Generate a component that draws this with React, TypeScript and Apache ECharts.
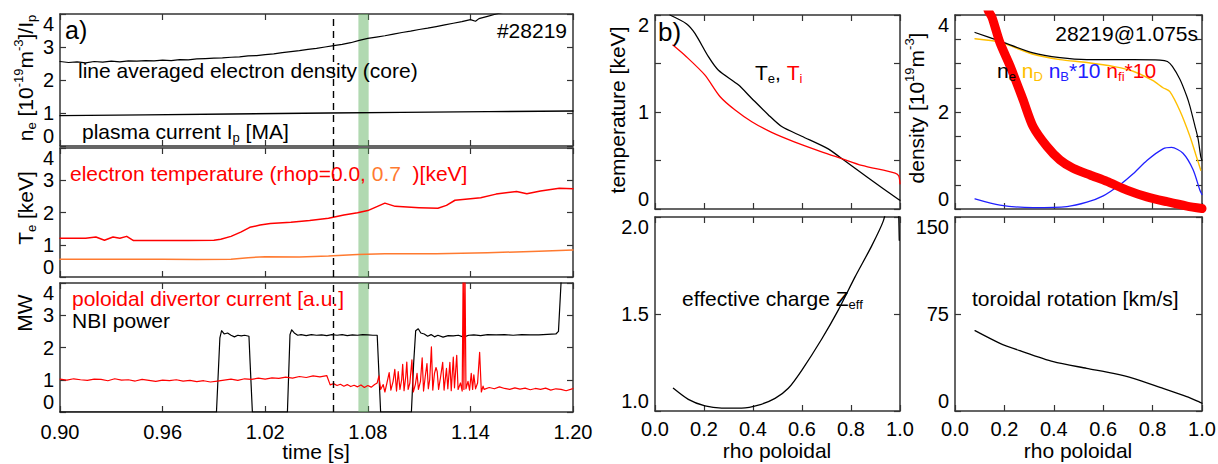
import React, { useEffect, useRef } from 'react';
import * as echarts from 'echarts';

type P = [number, number];

const FONT = '"Liberation Sans", Arial, Helvetica, sans-serif';
const AX = '#333333';
const RED = '#ff0000';
const ORANGE = '#ff7a30';
const GOLD = '#ffbf00';
const BLUE = '#2020ff';

// ---------- panel a) top : line averaged density and plasma current ----------
const densityCore: P[] = [
  [0.900, 2.56], [0.905, 2.53], [0.910, 2.55], [0.915, 2.52], [0.920, 2.56], [0.925, 2.54],
  [0.930, 2.57], [0.935, 2.55], [0.940, 2.58], [0.945, 2.57], [0.950, 2.59], [0.955, 2.58],
  [0.960, 2.60], [0.965, 2.59], [0.970, 2.62], [0.975, 2.61], [0.980, 2.64], [0.985, 2.65],
  [0.990, 2.66], [0.995, 2.67], [1.000, 2.69], [1.005, 2.70], [1.010, 2.73], [1.015, 2.74],
  [1.020, 2.77], [1.025, 2.79], [1.030, 2.83], [1.035, 2.86], [1.040, 2.89], [1.045, 2.93],
  [1.050, 2.96], [1.055, 3.00], [1.060, 3.04], [1.065, 3.08], [1.070, 3.13], [1.075, 3.20],
  [1.080, 3.26], [1.085, 3.30], [1.090, 3.34], [1.095, 3.39], [1.100, 3.44], [1.105, 3.48],
  [1.110, 3.53], [1.115, 3.57], [1.120, 3.62], [1.125, 3.67], [1.130, 3.72], [1.135, 3.77],
  [1.140, 3.83], [1.143, 3.78], [1.145, 3.86], [1.150, 3.93], [1.155, 4.00], [1.160, 4.06],
  [1.165, 4.12], [1.170, 4.17], [1.180, 4.27], [1.190, 4.35], [1.200, 4.45],
];
const plasmaCurrent: P[] = [
  [0.90, 0.92], [0.95, 0.945], [1.00, 0.97], [1.057, 1.0], [1.10, 1.02], [1.15, 1.04], [1.20, 1.06],
];

// ---------- panel a) middle : electron temperature ----------
const teCore: P[] = [
  [0.900, 1.20], [0.915, 1.20], [0.921, 1.24], [0.926, 1.14], [0.931, 1.24], [0.935, 1.20],
  [0.939, 1.26], [0.943, 1.13], [0.960, 1.13], [0.975, 1.13], [0.990, 1.14], [0.994, 1.17],
  [1.000, 1.26], [1.006, 1.40], [1.011, 1.54], [1.017, 1.61], [1.023, 1.66], [1.035, 1.70],
  [1.046, 1.75], [1.057, 1.82], [1.066, 1.92], [1.074, 1.99], [1.080, 2.06], [1.090, 2.29],
  [1.096, 2.19], [1.110, 2.15], [1.121, 2.13], [1.126, 2.22], [1.131, 2.38], [1.146, 2.46],
  [1.155, 2.57], [1.167, 2.65], [1.173, 2.58], [1.181, 2.67], [1.192, 2.75], [1.200, 2.74],
];
const teRho07: P[] = [
  [0.90, 0.55], [0.96, 0.55], [0.98, 0.54], [1.00, 0.55], [1.01, 0.60], [1.02, 0.63],
  [1.04, 0.62], [1.057, 0.65], [1.074, 0.70], [1.09, 0.72], [1.12, 0.72], [1.15, 0.75],
  [1.18, 0.80], [1.20, 0.84],
];

// ---------- panel a) bottom : NBI power and divertor current ----------
const nbiPower: P[] = [
  [0.900, 0], [0.9915, 0], [0.9935, 2.3], [0.9945, 2.52], [0.996, 2.42], [0.998, 2.45],
  [1.000, 2.38], [1.002, 2.33], [1.004, 2.38], [1.006, 2.36], [1.008, 2.38], [1.0105, 2.35],
  [1.0112, 1.5], [1.0125, 0], [1.0330, 0], [1.0345, 2.4], [1.0355, 2.55], [1.037, 2.45],
  [1.039, 2.38], [1.041, 2.40], [1.044, 2.37], [1.047, 2.40], [1.050, 2.38], [1.053, 2.39],
  [1.056, 2.37], [1.059, 2.40], [1.062, 2.38], [1.065, 2.40], [1.068, 2.37], [1.071, 2.39],
  [1.074, 2.38], [1.077, 2.40], [1.080, 2.39], [1.083, 2.38], [1.0855, 2.38], [1.0865, 1.2],
  [1.0875, 0], [1.1055, 0], [1.1068, 1.5], [1.1080, 2.52], [1.1095, 2.58], [1.111, 2.45],
  [1.113, 2.42], [1.115, 2.35], [1.117, 2.40], [1.119, 2.33], [1.121, 2.38], [1.124, 2.32],
  [1.127, 2.37], [1.130, 2.36], [1.133, 2.38], [1.136, 2.32], [1.139, 2.38], [1.142, 2.39],
  [1.146, 2.37], [1.150, 2.40], [1.155, 2.39], [1.160, 2.40], [1.165, 2.38], [1.170, 2.40],
  [1.175, 2.39], [1.180, 2.39], [1.185, 2.41], [1.190, 2.42], [1.1915, 2.5], [1.1935, 4.5],
  [1.200, 4.5],
];

// divertor current: quiet phase sampled every 4 ms from 0.900 s
const divQuietStart = 0.9;
const divQuietStep = 0.004;
const divQuiet: number[] = [
  1.02, 0.99, 1.03, 1.00, 0.98, 1.02, 1.01, 0.97, 1.03, 0.99,
  1.00, 0.96, 1.01, 0.98, 0.95, 0.99, 0.97, 1.00, 0.96, 0.98,
  0.94, 0.97, 0.93, 0.96, 0.99, 1.02, 0.98, 1.03, 1.01, 1.05,
  1.02, 1.06, 1.04, 1.08, 1.05, 1.10, 1.07, 1.12, 1.09, 1.13,
];
// after the drop, sampled every 2 ms from 1.058 s
const divPostStart = 1.058;
const divPostStep = 0.002;
const divPost: number[] = [0.84, 0.88, 0.82, 0.86, 0.80, 0.85, 0.79, 0.83, 0.78, 0.84, 0.76, 0.82, 0.77, 0.85];
// ELM-like bursts
const divBursts: P[] = [
  [1.0855, 0.9], [1.0865, 1.12], [1.0875, 0.7], [1.0890, 0.85], [1.0900, 0.62], [1.0912, 0.9],
  [1.0925, 1.22], [1.0935, 0.68], [1.0948, 0.95], [1.0958, 1.32], [1.0968, 0.65], [1.0978, 1.25],
  [1.0988, 0.7], [1.0998, 1.0], [1.1004, 1.48], [1.1012, 0.66], [1.1022, 1.1], [1.1028, 1.55],
  [1.1036, 0.7], [1.1046, 0.9], [1.1058, 1.62], [1.1066, 0.62], [1.1078, 0.85], [1.1088, 1.2],
  [1.1096, 0.7], [1.1108, 0.95], [1.1118, 1.68], [1.1126, 0.65], [1.1136, 1.1], [1.1146, 1.5],
  [1.1154, 0.72], [1.1162, 1.0], [1.1172, 2.02], [1.1180, 0.68], [1.1190, 1.2], [1.1199, 1.38],
  [1.1206, 1.25], [1.1214, 0.7], [1.1226, 1.1], [1.1238, 1.54], [1.1246, 0.68], [1.1260, 1.35],
  [1.1268, 0.72], [1.1280, 1.54], [1.1288, 0.66], [1.1300, 1.7], [1.1307, 0.75], [1.1320, 1.76],
  [1.1328, 0.7], [1.1342, 0.9], [1.1352, 0.65], [1.1358, 4.6], [1.1362, 0.7], [1.1368, 4.6],
  [1.1374, 0.72], [1.1386, 0.95], [1.1395, 0.68], [1.1405, 1.2], [1.1413, 0.7], [1.1420, 1.15],
  [1.1430, 0.72], [1.1442, 0.9], [1.1454, 1.85], [1.1464, 0.62], [1.1474, 0.8],
];
// late quiet phase sampled every 3 ms from 1.148 s
const divLateStart = 1.148;
const divLateStep = 0.003;
const divLate: number[] = [0.70, 0.76, 0.72, 0.78, 0.73, 0.70, 0.75, 0.71, 0.74, 0.69, 0.73, 0.70, 0.74, 0.68, 0.72, 0.70, 0.66, 0.71];

const dashedTime = 1.0573;
const bandTimes: P = [1.0745, 1.0805];

// ---------- panel b) profiles vs rho poloidal ----------
const teProfile: P[] = [
  [0.061, 2.0], [0.128, 1.91], [0.163, 1.81], [0.218, 1.57], [0.259, 1.43], [0.340, 1.28],
  [0.395, 1.14], [0.463, 0.97], [0.517, 0.85], [0.599, 0.75], [0.707, 0.62], [0.762, 0.52],
  [0.871, 0.32], [0.993, 0.10], [1.0, 0.09],
];
const tiProfile: P[] = [
  [0.073, 1.69], [0.128, 1.57], [0.204, 1.38], [0.265, 1.16], [0.327, 1.02], [0.395, 0.90],
  [0.476, 0.79], [0.571, 0.69], [0.680, 0.59], [0.762, 0.52], [0.844, 0.45], [0.980, 0.37],
  [0.995, 0.34], [1.0, 0.26],
];
const neProfile: P[] = [
  [0.081, 3.64], [0.182, 3.46], [0.316, 3.22], [0.425, 3.12], [0.534, 3.08], [0.721, 3.08],
  [0.83, 3.07], [0.86, 3.04], [0.88, 2.94], [0.911, 2.67], [0.938, 2.33], [0.951, 2.12],
  [0.972, 1.70], [0.984, 1.45], [0.995, 1.08], [1.0, 1.0],
];
const ndProfile: P[] = [
  [0.081, 3.51], [0.182, 3.44], [0.316, 3.19], [0.425, 3.08], [0.534, 3.02], [0.65, 2.93],
  [0.721, 2.84], [0.80, 2.65], [0.842, 2.50], [0.87, 2.42], [0.911, 2.02], [0.951, 1.50],
  [0.975, 1.12], [0.995, 0.80],
];
const nbProfile: P[] = [
  [0.081, 0.21], [0.182, 0.08], [0.316, 0.03], [0.453, 0.05], [0.534, 0.14], [0.60, 0.27],
  [0.668, 0.50], [0.72, 0.72], [0.777, 1.00], [0.842, 1.24], [0.877, 1.27], [0.923, 1.15],
  [0.964, 0.81], [0.992, 0.38], [1.0, 0.30],
];
const nfiProfile: P[] = [
  [0.11, 4.6], [0.134, 4.1], [0.15, 3.95], [0.182, 3.43], [0.223, 2.95], [0.275, 2.26],
  [0.316, 1.70], [0.372, 1.29], [0.425, 1.01], [0.478, 0.84], [0.547, 0.70], [0.615, 0.57],
  [0.696, 0.39], [0.777, 0.25], [0.858, 0.15], [0.939, 0.06], [1.0, 0.01],
];
const zeffProfile: P[] = [
  [0.075, 1.117], [0.136, 1.06], [0.204, 1.026], [0.272, 1.015], [0.354, 1.015], [0.422, 1.03],
  [0.49, 1.065], [0.544, 1.117], [0.599, 1.21], [0.68, 1.37], [0.748, 1.52], [0.816, 1.69],
  [0.884, 1.85], [0.932, 1.98], [0.96, 2.12], [0.985, 2.2], [0.997, 1.88],
];
const rotationProfile: P[] = [
  [0.081, 62.1], [0.182, 52.3], [0.263, 46.6], [0.398, 38.1], [0.533, 33.0], [0.641, 29.1],
  [0.722, 25.3], [0.83, 18.3], [0.938, 11.1], [0.992, 6.7], [1.0, 6.0],
];

const sampled = (t0: number, dt: number, vals: number[]): P[] =>
  vals.map((v, i) => [Math.round((t0 + i * dt) * 10000) / 10000, v]);

function buildOption(): any {
  const divertor: P[] = [
    ...sampled(divQuietStart, divQuietStep, divQuiet),
    ...sampled(divPostStart, divPostStep, divPost),
    ...divBursts,
    ...sampled(divLateStart, divLateStep, divLate),
    [1.2, 0.73],
  ];

  const grids = [
    { left: 60, top: 14, width: 513, height: 132 },
    { left: 60, top: 148, width: 513, height: 129 },
    { left: 60, top: 283, width: 513, height: 129 },
    { left: 655, top: 15, width: 245, height: 194 },
    { left: 955, top: 15, width: 247, height: 194 },
    { left: 655, top: 217, width: 245, height: 194 },
    { left: 955, top: 217, width: 247, height: 194 },
  ].map((g) => ({ ...g, outerBoundsMode: 'none', containLabel: false }));

  const lineStyleAx = { color: AX, width: 1.5 };
  const tickStyle = { color: AX, width: 1.2 };
  const labelBase = { fontSize: 20, color: '#000', fontFamily: FONT };

  const xAxes = (g: number, min: number, max: number, interval: number, labels: boolean, dec: number, margin: number) => {
    const common = {
      type: 'value', gridIndex: g, min, max, interval,
      splitLine: { show: false },
      axisLine: { show: true, onZero: false, lineStyle: lineStyleAx },
      axisTick: { show: true, inside: true, length: 6, lineStyle: tickStyle },
    };
    return [
      { ...common, position: 'bottom', axisLabel: { ...labelBase, show: labels, margin, formatter: (v: number) => v.toFixed(dec) } },
      { ...common, position: 'top', axisLabel: { show: false } },
    ];
  };
  const yAxes = (g: number, min: number, max: number, interval: number, dec: number, minorSplit: number) => {
    const common = {
      type: 'value', gridIndex: g, min, max, interval,
      splitLine: { show: false },
      axisLine: { show: true, onZero: false, lineStyle: lineStyleAx },
      axisTick: { show: true, inside: true, length: 6, lineStyle: tickStyle },
      minorTick: minorSplit > 0 ? { show: true, splitNumber: minorSplit, length: 6, lineStyle: tickStyle } : { show: false },
      minorSplitLine: { show: false },
    };
    return [
      {
        ...common, position: 'left',
        axisLabel: {
          ...labelBase, show: true, margin: 6,
          verticalAlignMinLabel: 'bottom', verticalAlignMaxLabel: 'top',
          formatter: (v: number) => v.toFixed(dec),
        },
      },
      { ...common, position: 'right', axisLabel: { show: false } },
    ];
  };

  const xAxis = [
    ...xAxes(0, 0.9, 1.2, 0.06, false, 2, 10),
    ...xAxes(1, 0.9, 1.2, 0.06, false, 2, 10),
    ...xAxes(2, 0.9, 1.2, 0.06, true, 2, 10),
    ...xAxes(3, 0, 1, 0.2, false, 1, 8),
    ...xAxes(4, 0, 1, 0.2, false, 1, 8),
    ...xAxes(5, 0, 1, 0.2, true, 1, 8),
    ...xAxes(6, 0, 1, 0.2, true, 1, 8),
  ];
  const yAxis = [
    ...yAxes(0, 0, 4, 1, 0, 0),
    ...yAxes(1, 0, 4, 1, 0, 0),
    ...yAxes(2, 0, 4, 1, 0, 0),
    ...yAxes(3, 0, 2, 1, 0, 2),
    ...yAxes(4, 0, 4, 2, 0, 4),
    ...yAxes(5, 1, 2, 0.5, 1, 0),
    ...yAxes(6, 0, 150, 75, 0, 0),
  ];

  const line = (g: number, data: P[], color: string, width: number, smooth: number | boolean = false, z = 3) => ({
    type: 'line', xAxisIndex: 2 * g, yAxisIndex: 2 * g, data,
    showSymbol: false, symbol: 'none', clip: true, silent: true, z,
    smooth,
    lineStyle: { color, width, join: 'round', cap: 'round' }, itemStyle: { color },
  });
  const markers = (g: number) => ({
    type: 'line', xAxisIndex: 2 * g, yAxisIndex: 2 * g, data: [], z: 6, silent: true,
    markArea: {
      silent: true,
      itemStyle: { color: 'rgba(100,180,100,0.5)' },
      data: [[{ xAxis: bandTimes[0] }, { xAxis: bandTimes[1] }]],
    },
    markLine: {
      silent: true, symbol: ['none', 'none'], label: { show: false },
      lineStyle: { color: '#000', type: [7, 5], width: 1.4 },
      data: [{ xAxis: dashedTime }],
    },
  });

  const S = 0.25;
  const series = [
    line(0, densityCore, '#000', 1.2),
    line(0, plasmaCurrent, '#000', 1.3),
    markers(0),
    line(1, teRho07, ORANGE, 1.5),
    line(1, teCore, RED, 1.5),
    markers(1),
    line(2, nbiPower, '#000', 1.2),
    line(2, divertor, RED, 1.2),
    markers(2),
    line(3, teProfile, '#000', 1.3, S),
    line(3, tiProfile, RED, 1.3, S),
    line(4, ndProfile, GOLD, 1.4, S),
    line(4, neProfile, '#000', 1.2, S),
    line(4, nbProfile, BLUE, 1.3, S),
    line(4, nfiProfile, RED, 9, S),
    line(5, zeffProfile, '#000', 1.3, S),
    line(6, rotationProfile, '#000', 1.3, S),
  ];

  const mk = (fill: string, size = 21, lh = 26) => ({ fontSize: size, lineHeight: lh, fontFamily: FONT, fill });
  const sup = (fill: string) => ({ fontSize: 13, lineHeight: 13, verticalAlign: 'top', fontFamily: FONT, fill });
  const sub = (fill: string) => ({ fontSize: 13, lineHeight: 13, verticalAlign: 'bottom', fontFamily: FONT, fill });
  const rich = {
    k: mk('#000'), ksup: sup('#000'), ksub: sub('#000'),
    r: mk(RED), rsub: sub(RED),
    o: mk(ORANGE),
    y: mk(GOLD), ysub: sub(GOLD),
    b: mk(BLUE), bsub: sub(BLUE),
  };
  const text = (x: number, y: number, t: string, extra: any = {}, rot = 0) => ({
    type: 'text', x, y, z: 100, rotation: rot, silent: true,
    style: {
      text: t, rich, fill: '#000', fontSize: 21, fontFamily: FONT,
      align: 'left', verticalAlign: 'middle', ...extra,
    },
  });
  const R = Math.PI / 2;

  const graphic = [
    text(65, 30, 'a)', { fontSize: 25 }),
    text(567, 30, '#28219', { align: 'right' }),
    text(78, 70, 'line averaged electron density (core)'),
    text(82, 131, '{k|plasma current I}{ksub|p}{k| [MA]}'),
    text(70, 173, '{r|electron temperature (rhop=0.0, }{o|0.7}{r|  )[keV]}'),
    text(72, 298, 'poloidal divertor current [a.u.]', { fill: RED }),
    text(72, 320, 'NBI power'),
    text(316, 451, 'time [s]', { align: 'center' }),
    text(25, 78, '{k|n}{ksub|e}{k| [10}{ksup|-19}{k|m}{ksup|-3}{k|]/I}{ksub|p}', { align: 'center' }, R),
    text(25, 208, '{k|T}{ksub|e}{k| [keV]}', { align: 'center' }, R),
    text(24, 313, 'MW', { align: 'center' }, R),

    text(658, 32, 'b)', { fontSize: 26 }),
    text(755, 72, '{k|T}{ksub|e}{k|, }{r|T}{rsub|i}', { fontSize: 22 }),
    text(617, 110, 'temperature [keV]', { align: 'center' }, R),
    text(916, 108, '{k|density [10}{ksup|19}{k|m}{ksup|-3}{k|]}', { align: 'center' }, R),
    text(1198, 33, '28219@1.075s', { align: 'right' }),
    text(997, 70, '{k|n}{ksub|e}{k| }{y|n}{ysub|D}{k| }{b|n}{bsub|B}{b|*10}{k| }{r|n}{rsub|fi}{r|*10}'),
    text(682, 298, '{k|effective charge Z}{ksub|eff}'),
    text(972, 298, 'toroidal rotation [km/s]'),
    text(777, 450, 'rho poloidal', { align: 'center' }),
    text(1078, 450, 'rho poloidal', { align: 'center' }),
  ];

  return {
    animation: false,
    backgroundColor: '#ffffff',
    textStyle: { fontFamily: FONT },
    grid: grids,
    xAxis,
    yAxis,
    series,
    graphic,
  };
}

export default function App() {
  const ref = useRef<HTMLDivElement>(null);
  useEffect(() => {
    if (!ref.current) return;
    const chart = echarts.init(ref.current, undefined, { renderer: 'svg' });
    chart.setOption(buildOption());
    return () => chart.dispose();
  }, []);
  return (
    <div
      ref={ref}
      style={{ position: 'fixed', left: 0, top: 0, width: 1218, height: 464, background: '#fff' }}
    />
  );
}
